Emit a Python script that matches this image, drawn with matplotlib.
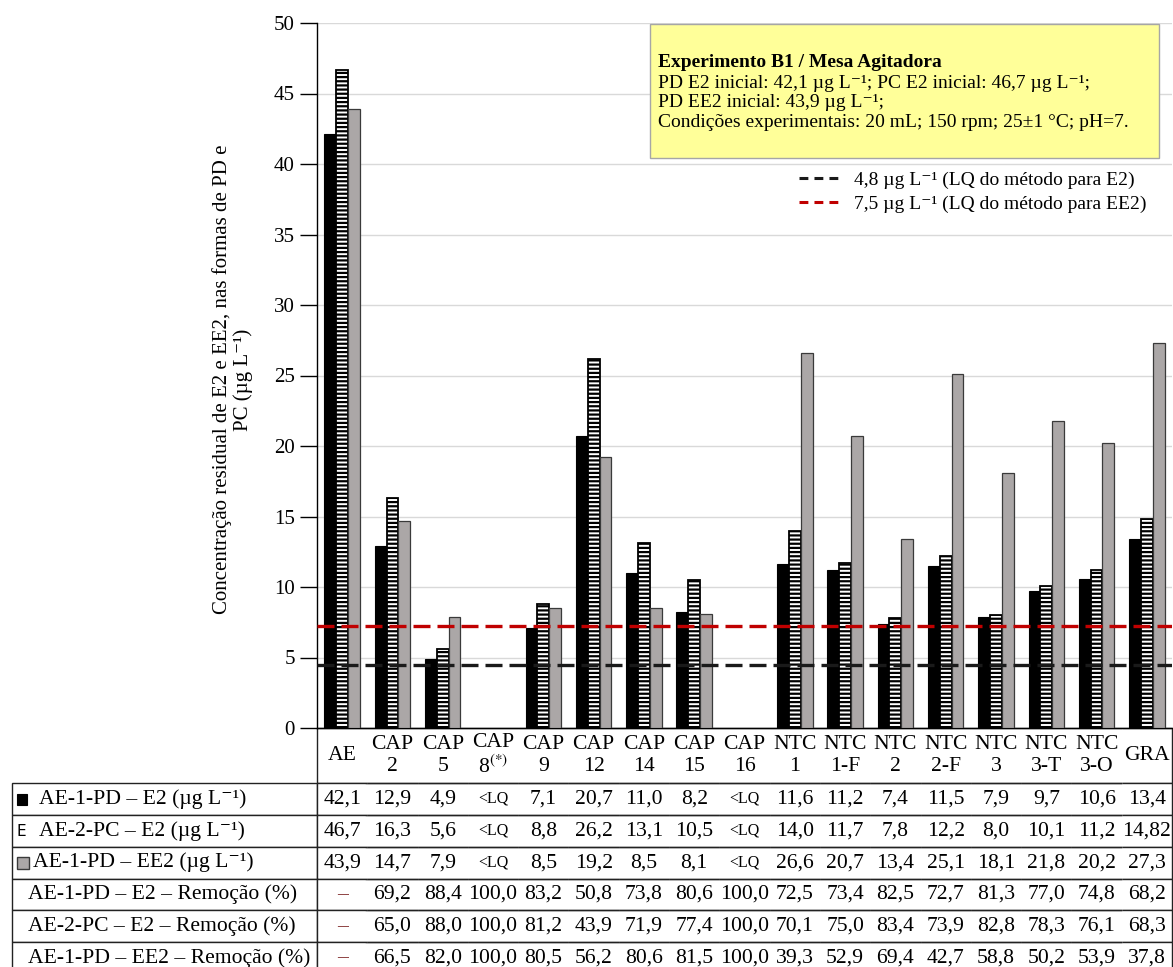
import numpy as np
import matplotlib
matplotlib.use('Agg')
import matplotlib.pyplot as plt
from matplotlib.patches import Rectangle
from matplotlib.lines import Line2D

plt.rcParams['font.family'] = ['Liberation Serif', 'DejaVu Serif']
plt.rcParams['mathtext.fontset'] = 'stix'
plt.rcParams['hatch.linewidth'] = 1.6

categories = ['AE', 'CAP\n2', 'CAP\n5', 'CAP\n8$^{(*)}$', 'CAP\n9', 'CAP\n12', 'CAP\n14',
              'CAP\n15', 'CAP\n16', 'NTC\n1', 'NTC\n1-F', 'NTC\n2', 'NTC\n2-F', 'NTC\n3',
              'NTC\n3-T', 'NTC\n3-O', 'GRA']
pd_e2 = [42.1, 12.9, 4.9, None, 7.1, 20.7, 11.0, 8.2, None, 11.6, 11.2, 7.4, 11.5, 7.9, 9.7, 10.6, 13.4]
pc_e2 = [46.7, 16.3, 5.6, None, 8.8, 26.2, 13.1, 10.5, None, 14.0, 11.7, 7.8, 12.2, 8.0, 10.1, 11.2, 14.82]
pd_ee2 = [43.9, 14.7, 7.9, None, 8.5, 19.2, 8.5, 8.1, None, 26.6, 20.7, 13.4, 25.1, 18.1, 21.8, 20.2, 27.3]
rem_pd_e2 = [None, 69.2, 88.4, 100.0, 83.2, 50.8, 73.8, 80.6, 100.0, 72.5, 73.4, 82.5, 72.7, 81.3, 77.0, 74.8, 68.2]
rem_pc_e2 = [None, 65.0, 88.0, 100.0, 81.2, 43.9, 71.9, 77.4, 100.0, 70.1, 75.0, 83.4, 73.9, 82.8, 78.3, 76.1, 68.3]
rem_pd_ee2 = [None, 66.5, 82.0, 100.0, 80.5, 56.2, 80.6, 81.5, 100.0, 39.3, 52.9, 69.4, 42.7, 58.8, 50.2, 53.9, 37.8]
lq_e2 = 4.5    # drawn position of the E2 limit line
lq_ee2 = 7.25  # drawn position of the EE2 limit line

row_labels = ['AE-1-PD – E2 (µg L⁻¹)', 'AE-2-PC – E2 (µg L⁻¹)',
              'AE-1-PD – EE2 (µg L⁻¹)', 'AE-1-PD – E2 – Remoção (%)',
              'AE-2-PC – E2 – Remoção (%)', 'AE-1-PD – EE2 – Remoção (%)']


def to_bar(vals):
    return np.array([np.nan if v is None else v for v in vals])


def fmt(v, missing):
    if v is None:
        return missing
    s = f'{v:.1f}' if round(v, 1) == v else f'{v:.2f}'
    return s.replace('.', ',')


fig = plt.figure(figsize=(11.73, 9.67), dpi=100)
ax = fig.add_axes([317 / 1173, 1 - 728 / 967, 855 / 1173, 705 / 967])

x = np.arange(len(categories))
w = 0.235
ax.bar(x - w, to_bar(pd_e2), w, color='black', edgecolor='black', lw=0.8, zorder=3)
ax.bar(x, to_bar(pc_e2), w, color='white', edgecolor='black', hatch='----', lw=1.3, zorder=3)
ax.bar(x + w, to_bar(pd_ee2), w, color='#aba7a7', edgecolor='#3a3a3a', lw=0.9, zorder=3)

ax.axhline(lq_e2, color='#1a1a1a', lw=2.4, dashes=(5.1, 2.1), zorder=4)
ax.axhline(lq_ee2, color='#c00000', lw=2.4, dashes=(5.1, 2.1), zorder=4)

ax.set_xlim(-0.5, len(categories) - 0.5)
ax.set_ylim(0, 50)
ax.set_yticks(np.arange(0, 51, 5))
ax.set_xticks([])
ax.tick_params(axis='y', direction='out', length=12, width=1, labelsize=15, pad=4)
ax.grid(axis='y', color='#d9d9d9', lw=1, zorder=0)
ax.set_axisbelow(True)
for s in ['top', 'right']:
    ax.spines[s].set_visible(False)
ax.spines['left'].set_linewidth(1)
ax.spines['bottom'].set_linewidth(1)

ax.set_ylabel('Concentração residual de E2 e EE2, nas formas de PD e\nPC (µg L⁻¹)',
              fontsize=15, linespacing=1.1)
ax.yaxis.set_label_coords(-0.075, 0.494)

# info box
ax.add_patch(Rectangle((0.3895, 0.8085), 0.5955, 0.19, transform=ax.transAxes,
                       facecolor='#ffff99', edgecolor='#a6a6a6', lw=1, zorder=5, clip_on=False))
tx = 0.3985
fs_box = 14
ax.text(tx, 0.944, 'Experimento B1 / Mesa Agitadora', transform=ax.transAxes, fontsize=fs_box,
        fontweight='bold', va='center', zorder=6)
ax.text(tx, 0.914, 'PD E2 inicial: 42,1 µg L⁻¹; PC E2 inicial: 46,7 µg L⁻¹;',
        transform=ax.transAxes, fontsize=fs_box, va='center', zorder=6)
ax.text(tx, 0.887, 'PD EE2 inicial: 43,9 µg L⁻¹;', transform=ax.transAxes, fontsize=fs_box,
        va='center', zorder=6)
ax.text(tx, 0.859, 'Condições experimentais: 20 mL; 150 rpm; 25±1 °C; pH=7.',
        transform=ax.transAxes, fontsize=fs_box, va='center', zorder=6)

handles = [Line2D([], [], color='#1a1a1a', lw=2.2, dashes=(2.9, 2.0)),
           Line2D([], [], color='#c00000', lw=2.2, dashes=(2.9, 2.0))]
ax.legend(handles, ['4,8 µg L⁻¹ (LQ do método para E2)',
                    '7,5 µg L⁻¹ (LQ do método para EE2)'],
          loc='upper left', bbox_to_anchor=(0.564, 0.79), frameon=False, fontsize=14,
          borderpad=0, borderaxespad=0, handlelength=2.0, handletextpad=0.8, labelspacing=0.35)

# table below the axes
concs = [pd_e2, pc_e2, pd_ee2]
rems = [rem_pd_e2, rem_pc_e2, rem_pd_ee2]
cell_text = [[''] + categories]
for lab, vals in zip(row_labels[:3], concs):
    cell_text.append([lab] + [fmt(v, '<LQ') for v in vals])
for lab, vals in zip(row_labels[3:], rems):
    cell_text.append([lab] + [fmt(v, '–') for v in vals])

tbl = ax.table(cellText=cell_text, cellLoc='center', bbox=[-305 / 855, -246 / 705, 1160 / 855, 246 / 705])
tbl.auto_set_font_size(False)
ncol = len(categories) + 1
pads = [0, 0.089, 0.089, 0.069, 0.052, 0.052, 0.052]
for (r, c), cell in tbl.get_celld().items():
    cell.set_width(305 if c == 0 else 855 / len(categories))
    cell.set_height(55 if r == 0 else 31.8)
    cell.set_edgecolor('#222222')
    cell.set_linewidth(1)
    t = cell.get_text()
    t.set_fontsize(15.6)
    if c == 0:
        cell.visible_edges = 'open' if r == 0 else 'closed'
        cell._loc = 'left'
        t.set_ha('left')
        cell.PAD = pads[r]
    else:
        e = 'TB'
        if c == 1:
            e += 'L'
        if c == ncol - 1:
            e += 'R'
        cell.visible_edges = e
        if t.get_text() == '<LQ':
            t.set_fontsize(11.5)
        if t.get_text() == '–':
            t.set_color('#7a2020')

# legend keys inside the row label cells
fig.add_artist(Rectangle((17 / 1173, 1 - 805 / 967), 10 / 1173, 11 / 967, transform=fig.transFigure,
                         facecolor='black', edgecolor='black', lw=0.8))
fig.text(17 / 1173, 1 - 831 / 967, 'E', family='DejaVu Sans', fontsize=11, va='center', ha='left')
fig.add_artist(Rectangle((17 / 1173, 1 - 869 / 967), 12 / 1173, 12 / 967, transform=fig.transFigure,
                         facecolor='#aba7a7', edgecolor='#3a3a3a', lw=1))

fig.savefig('out.png', dpi=100)
